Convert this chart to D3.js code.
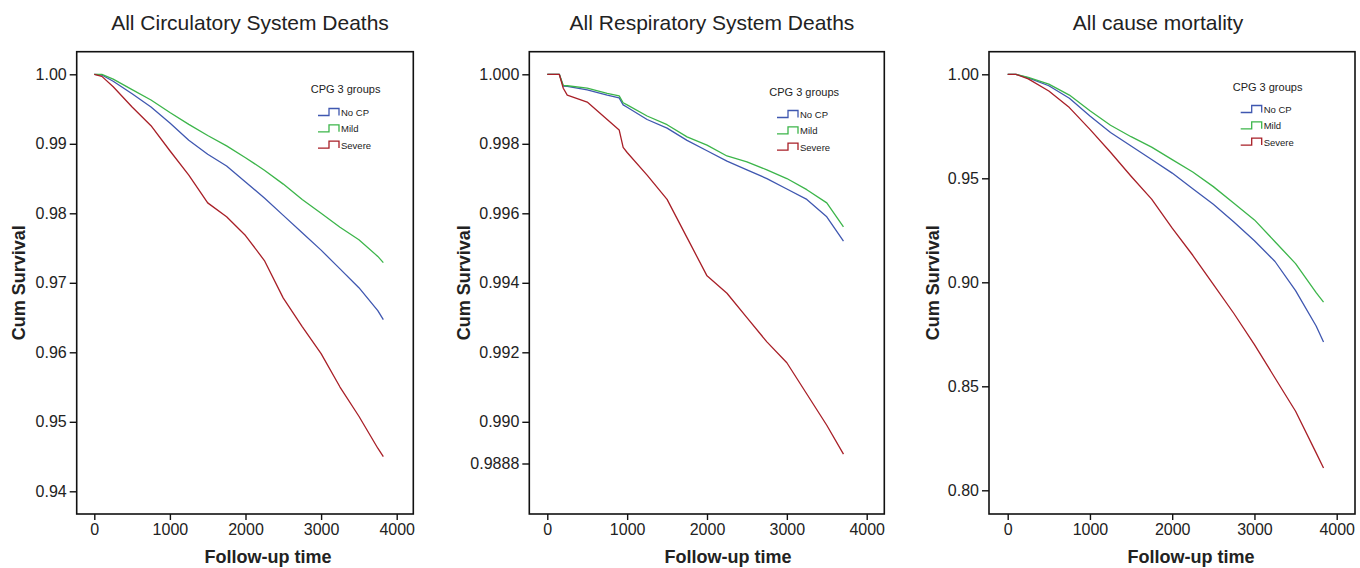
<!DOCTYPE html>
<html><head><meta charset="utf-8">
<script src="https://cdn.jsdelivr.net/npm/d3@7"></script>
<style>
body{margin:0;background:#fff}
svg{display:block}
text{font-family:"Liberation Sans",Arial,Helvetica,sans-serif;fill:#222}
</style>
</head><body>
<svg id="chart" width="1360" height="568"></svg>
<script>
// Kaplan-Meier cumulative survival by CPG group
const groups = ["No CP", "Mild", "Severe"];
const groupColors = ["#3f57b0", "#3cb54a", "#a81f27"];

// Circulatory system deaths
const circTime   = [0, 100, 250, 500, 750, 1000, 1250, 1500, 1750, 2000, 2250, 2500, 2750, 3000, 3250, 3500, 3750, 3823];
const circNoCP   = [1, 0.9999, 0.9990, 0.9972, 0.9953, 0.9930, 0.9905, 0.9885, 0.9868, 0.9845, 0.9822, 0.9797, 0.9772, 0.9747, 0.9720, 0.9693, 0.9660, 0.9647];
const circMild   = [1, 1.0000, 0.9993, 0.9978, 0.9963, 0.9945, 0.9928, 0.9912, 0.9897, 0.9880, 0.9862, 0.9842, 0.9820, 0.9800, 0.9780, 0.9762, 0.9738, 0.9729];
const circSevere = [1, 0.9997, 0.9982, 0.9953, 0.9926, 0.9890, 0.9855, 0.9815, 0.9795, 0.9768, 0.9732, 0.9678, 0.9637, 0.9598, 0.9550, 0.9508, 0.9462, 0.9450];
const circTicks  = [1.00, 0.99, 0.98, 0.97, 0.96, 0.95, 0.94];

// Respiratory system deaths
const respTime   = [0, 150, 200, 250, 500, 750, 900, 950, 1000, 1250, 1500, 1750, 2000, 2250, 2500, 2750, 3000, 3250, 3500, 3709];
const respNoCP   = [1, 1, 0.99966, 0.99965, 0.99955, 0.99940, 0.99932, 0.99912, 0.99905, 0.99870, 0.99845, 0.99810, 0.99780, 0.99750, 0.99725, 0.99700, 0.99670, 0.99640, 0.99590, 0.99520];
const respMild   = [1, 1, 0.99968, 0.99967, 0.99960, 0.99945, 0.99938, 0.99918, 0.99912, 0.99880, 0.99855, 0.99820, 0.99796, 0.99765, 0.99748, 0.99725, 0.99700, 0.99668, 0.99630, 0.99561];
const respSevere = [1, 1, 0.99960, 0.99940, 0.99920, 0.99870, 0.99840, 0.99790, 0.99775, 0.99710, 0.99640, 0.99530, 0.99420, 0.99370, 0.99300, 0.99230, 0.99170, 0.99080, 0.98990, 0.98907];
const respTicks  = [1.000, 0.998, 0.996, 0.994, 0.992, 0.990, 0.9888];

// All cause mortality
const allTime    = [0, 100, 250, 500, 750, 1000, 1250, 1500, 1750, 2000, 2250, 2500, 2750, 3000, 3250, 3500, 3750, 3840];
const allNoCP    = [1, 1, 0.9983, 0.9945, 0.9885, 0.9800, 0.9720, 0.9655, 0.9590, 0.9525, 0.9450, 0.9375, 0.9290, 0.9200, 0.9100, 0.8960, 0.8790, 0.8713];
const allMild    = [1, 1, 0.9985, 0.9953, 0.9900, 0.9825, 0.9755, 0.9700, 0.9650, 0.9590, 0.9530, 0.9460, 0.9380, 0.9300, 0.9195, 0.9090, 0.8950, 0.8905];
const allSevere  = [1, 1, 0.9978, 0.9920, 0.9840, 0.9735, 0.9625, 0.9510, 0.9400, 0.9260, 0.9130, 0.8990, 0.8850, 0.8700, 0.8540, 0.8380, 0.8180, 0.8107];
const allTicks   = [1.00, 0.95, 0.90, 0.85, 0.80];

const timeTicks = [0, 1000, 2000, 3000, 4000];

const panels = [
  { title: "All Circulatory System Deaths", time: circTime, series: [circNoCP, circMild, circSevere],
    ticks: circTicks, fmt: d3.format(".2f"), yDomain: [0.94, 1.0], yRange: [491.3, 74.3],
    xRange: [94.3, 396.7], frame: [76.7, 51.7, 413.3, 514], titleX: 250, xLabelX: 268, yLabelX: 25,
    legend: [310.7, 93, 318, 112.5, 16.3] },
  { title: "All Respiratory System Deaths", time: respTime, series: [respNoCP, respMild, respSevere],
    ticks: respTicks, fmt: v => v === 0.9888 ? "0.9888" : d3.format(".3f")(v), yDomain: [0.9888, 1.0], yRange: [463.5, 74.3],
    xRange: [547.3, 866.7], frame: [529.3, 51.7, 884.3, 514], titleX: 712, xLabelX: 728, yLabelX: 470,
    legend: [769.3, 96, 777, 114.5, 16.3] },
  { title: "All cause mortality", time: allTime, series: [allNoCP, allMild, allSevere],
    ticks: allTicks, fmt: d3.format(".2f"), yDomain: [0.80, 1.0], yRange: [490.3, 74.3],
    xRange: [1007.7, 1336.7], frame: [989, 51.7, 1355, 514], titleX: 1158, xLabelX: 1191, yLabelX: 939,
    legend: [1232.7, 91, 1240.7, 109.5, 16.3] }
];

const svg = d3.select("#chart");

panels.forEach(p => {
  const g = svg.append("g");
  const [fx0, fy0, fx1, fy1] = p.frame;
  const x = d3.scaleLinear().domain([0, 4000]).range(p.xRange);
  const y = d3.scaleLinear().domain(p.yDomain).range(p.yRange);

  // title
  g.append("text").attr("x", p.titleX).attr("y", 30).attr("text-anchor", "middle")
    .style("font-size", "21px").text(p.title);

  // survival curves
  const line = d3.line().x(d => x(d[0])).y(d => y(d[1])).curve(d3.curveLinear);
  p.series.forEach((s, i) => {
    const pts = p.time.map((t, k) => [t, s[k]]);
    g.append("path").datum(pts).attr("d", line)
      .attr("fill", "none").attr("stroke", groupColors[i]).attr("stroke-width", 1.3)
      .attr("stroke-linejoin", "round");
  });

  // frame
  g.append("rect").attr("x", fx0).attr("y", fy0).attr("width", fx1 - fx0).attr("height", fy1 - fy0)
    .attr("fill", "none").attr("stroke", "#111").attr("stroke-width", 1.6);

  // y axis
  const yAxis = d3.axisLeft(y).tickValues(p.ticks).tickFormat(p.fmt).tickSize(7).tickPadding(3);
  const ya = g.append("g").attr("transform", `translate(${fx0},0)`).call(yAxis);
  ya.select(".domain").remove();
  ya.selectAll("line").attr("stroke", "#111").attr("stroke-width", 1.4);
  ya.selectAll("text").style("font-size", "16px").style("font-family", '"Liberation Sans",Arial,sans-serif').attr("fill", "#222");

  // x axis
  const xAxis = d3.axisBottom(x).tickValues(timeTicks).tickFormat(d3.format("d")).tickSize(6).tickPadding(4);
  const xa = g.append("g").attr("transform", `translate(0,${fy1})`).call(xAxis);
  xa.select(".domain").remove();
  xa.selectAll("line").attr("stroke", "#111").attr("stroke-width", 1.4);
  xa.selectAll("text").style("font-size", "16px").style("font-family", '"Liberation Sans",Arial,sans-serif').attr("fill", "#222");

  // axis titles
  g.append("text").attr("x", p.xLabelX).attr("y", 563).attr("text-anchor", "middle")
    .style("font-size", "18px").style("font-weight", "bold").attr("fill", "#111").text("Follow-up time");
  g.append("text").attr("transform", `translate(${p.yLabelX},${(fy0 + fy1) / 2}) rotate(-90)`)
    .attr("text-anchor", "middle")
    .style("font-size", "18px").style("font-weight", "bold").attr("fill", "#111").text("Cum Survival");

  // legend
  const [tx, ty, ix, iy, dy] = p.legend;
  g.append("text").attr("x", tx).attr("y", ty).style("font-size", "11px").text("CPG 3 groups");
  groups.forEach((name, i) => {
    const cy = iy + i * dy;
    g.append("path")
      .attr("d", `M${ix},${cy + 3}H${ix + 11}V${cy - 4}H${ix + 21}V${cy + 3}`)
      .attr("fill", "none").attr("stroke", groupColors[i]).attr("stroke-width", 1.3);
    g.append("text").attr("x", ix + 23).attr("y", cy + 3.5).style("font-size", "9.5px").text(name);
  });
});
</script>
</body></html>
